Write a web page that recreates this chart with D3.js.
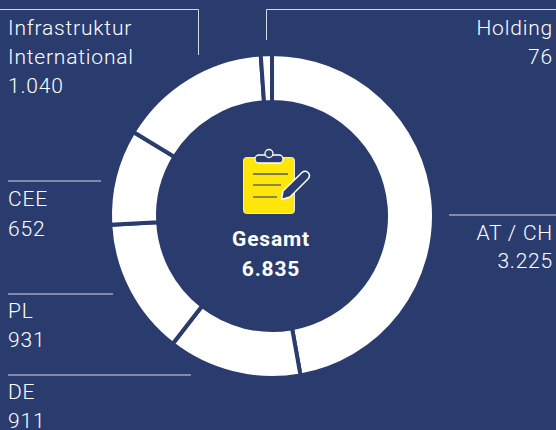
<!DOCTYPE html>
<html>
<head>
	<title>Gesamt</title>
	<script type="text/javascript" src="https://d3js.org/d3.v7.min.js"></script>
	<style>
		html, body { margin: 0; padding: 0; background: #2a3c6e; }
		svg { display: block; }
		text { font-family: Roboto, sans-serif; font-weight: 300; fill: #fff; font-size: 21px; letter-spacing: 0.8px; }
	</style>
</head>
<body>
	<script type="text/javascript">
		var categories = ["AT / CH", "DE", "PL", "CEE", "Infrastruktur International", "Holding"];
		var values = [3225, 911, 931, 652, 1040, 76];
		var valueLabels = ["3.225", "911", "931", "652", "1.040", "76"];

		var navy = "#2a3c6e";
		var svg = d3.select("body").append("svg").attr("width", 556).attr("height", 430);

		// donut, order as in the data, clockwise from the top
		var pie = d3.pie().sort(null).value(function (d) { return d; });
		var arc = d3.arc().innerRadius(114).outerRadius(162);

		svg.append("g").attr("transform", "translate(272,216)")
			.selectAll("path")
			.data(pie(values))
			.enter()
			.append("path")
			.attr("d", arc)
			.attr("fill", "#fff")
			.attr("stroke", navy)
			.attr("stroke-width", 4);

		// leader lines
		var leaders = [
			"M449,215H556",
			"M8,375H191",
			"M8,294H113",
			"M8,181H101",
			"M0,9.5H198.5V55",
			"M266.5,40V9.5H556"
		];
		svg.selectAll("path.leader")
			.data(leaders)
			.enter()
			.append("path")
			.attr("class", "leader")
			.attr("d", function (d) { return d; })
			.attr("fill", "none")
			.attr("stroke", "#d5d9e4")
			.attr("stroke-width", 1);

		// labels: [x, anchor, baselines]
		var labelPos = [
			[553, "end", [240, 268]],
			[8, "start", [399, 428]],
			[8, "start", [318, 347]],
			[8, "start", [206, 236]],
			[8, "start", [35, 64, 93]],
			[553, "end", [35, 64]]
		];
		labelPos.forEach(function (p, i) {
			var lines = categories[i] === "Infrastruktur International" ? ["Infrastruktur", "International"] : [categories[i]];
			lines = lines.concat([valueLabels[i]]);
			lines.forEach(function (t, j) {
				svg.append("text")
					.attr("x", p[0])
					.attr("y", p[2][j])
					.attr("text-anchor", p[1])
					.text(t);
			});
		});

		// center
		var total = d3.sum(values);
		svg.append("text").attr("x", 271).attr("y", 246).attr("text-anchor", "middle")
			.style("font-weight", 700).text("Gesamt");
		svg.append("text").attr("x", 271).attr("y", 276).attr("text-anchor", "middle")
			.style("font-weight", 700).text(d3.format(",")(total).replace(",", "."));

		// clipboard icon
		var icon = svg.append("g");
		icon.append("rect").attr("x", 243.5).attr("y", 157.5).attr("width", 51).attr("height", 56).attr("rx", 3)
			.attr("fill", "#ffe60a").attr("stroke", "#e6e9f0").attr("stroke-width", 1);
		icon.append("rect").attr("x", 255).attr("y", 155).attr("width", 28).attr("height", 8).attr("rx", 4)
			.attr("fill", navy).attr("stroke", "#fff").attr("stroke-width", 1.3);
		icon.append("circle").attr("cx", 269).attr("cy", 153.5).attr("r", 4)
			.attr("fill", navy).attr("stroke", "#fff").attr("stroke-width", 1.3);
		[[253, 288, 174], [253, 281, 185], [253, 277, 197]].forEach(function (l) {
			icon.append("line").attr("x1", l[0]).attr("x2", l[1]).attr("y1", l[2]).attr("y2", l[2])
				.attr("stroke", "#4a5570").attr("stroke-width", 1.3);
		});
		icon.append("path")
			.attr("d", "M281.5,199.5 L283,191 L302,172.5 Q305,170 308,172.5 Q311,175.5 308,179 L290,197 Z")
			.attr("fill", navy).attr("stroke", "#fff").attr("stroke-width", 1.5).attr("stroke-linejoin", "round");
	</script>
</body>
</html>
